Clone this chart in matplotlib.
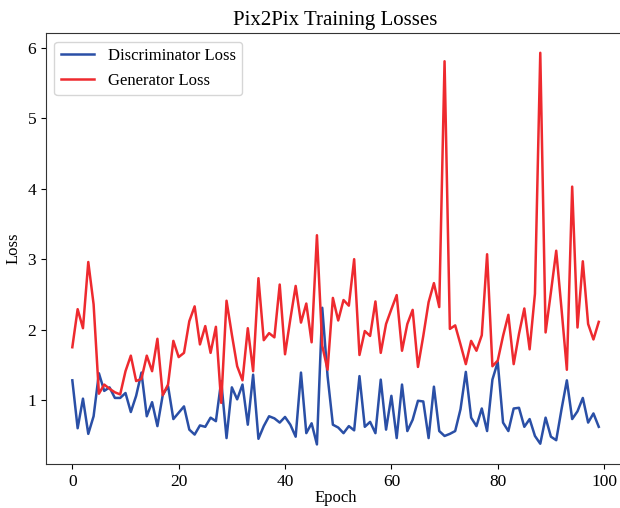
import numpy as np
import matplotlib
matplotlib.use("Agg")
import matplotlib.pyplot as plt

plt.rcParams['font.family'] = ['Liberation Serif', 'DejaVu Serif']

epochs = np.arange(100)

disc_loss = [1.28, 0.60, 1.02, 0.52, 0.77, 1.38, 1.13, 1.18, 1.03, 1.03,
             1.10, 0.83, 1.06, 1.39, 0.77, 0.97, 0.63, 1.07, 1.20, 0.73,
             0.82, 0.91, 0.58, 0.51, 0.64, 0.62, 0.75, 0.70, 1.27, 0.46,
             1.18, 1.01, 1.22, 0.65, 1.36, 0.45, 0.63, 0.77, 0.74, 0.68,
             0.76, 0.65, 0.48, 1.39, 0.53, 0.67, 0.37, 2.31, 1.34, 0.65,
             0.61, 0.53, 0.63, 0.57, 1.34, 0.62, 0.69, 0.53, 1.29, 0.58,
             1.06, 0.46, 1.22, 0.56, 0.72, 0.99, 0.98, 0.46, 1.19, 0.56,
             0.49, 0.52, 0.56, 0.87, 1.40, 0.75, 0.63, 0.88, 0.56, 1.29,
             1.54, 0.68, 0.56, 0.88, 0.89, 0.62, 0.73, 0.49, 0.38, 0.75,
             0.48, 0.43, 0.87, 1.28, 0.73, 0.84, 1.03, 0.68, 0.81, 0.62]

gen_loss = [1.75, 2.29, 2.02, 2.96, 2.36, 1.09, 1.22, 1.16, 1.11, 1.08,
            1.41, 1.63, 1.27, 1.30, 1.63, 1.41, 1.87, 1.07, 1.22, 1.84,
            1.61, 1.67, 2.12, 2.33, 1.79, 2.05, 1.67, 2.04, 0.96, 2.41,
            1.93, 1.48, 1.28, 2.02, 1.41, 2.73, 1.85, 1.95, 1.89, 2.64,
            1.65, 2.15, 2.62, 2.10, 2.37, 1.82, 3.34, 1.77, 1.43, 2.45,
            2.13, 2.42, 2.34, 3.00, 1.64, 1.98, 1.91, 2.40, 1.67, 2.08,
            2.29, 2.49, 1.70, 2.08, 2.28, 1.47, 1.91, 2.39, 2.66, 2.32,
            5.81, 2.01, 2.06, 1.79, 1.51, 1.84, 1.70, 1.92, 3.07, 1.48,
            1.56, 1.91, 2.21, 1.51, 1.94, 2.30, 1.72, 2.51, 5.93, 1.96,
            2.53, 3.12, 2.29, 1.43, 4.03, 2.03, 2.97, 2.08, 1.86, 2.11]

fig = plt.figure(figsize=(6.2, 5.08), dpi=100)
ax = fig.add_axes([0.0742, 0.0866, 0.934, 0.848])

ax.plot(epochs, disc_loss, color='#2a4fa6', linewidth=1.8, label='Discriminator Loss')
ax.plot(epochs, gen_loss, color='#ee2a2f', linewidth=1.8, label='Generator Loss')

ax.set_title('Pix2Pix Training Losses', fontsize=15)
ax.set_xlabel('Epoch', fontsize=12, labelpad=0)
ax.set_ylabel('Loss', fontsize=12)
ax.tick_params(labelsize=12.5)
for sp in ax.spines.values():
    sp.set_color('#333333')
ax.legend(loc='upper left', fontsize=12)

fig.savefig('out.png', dpi=100)
